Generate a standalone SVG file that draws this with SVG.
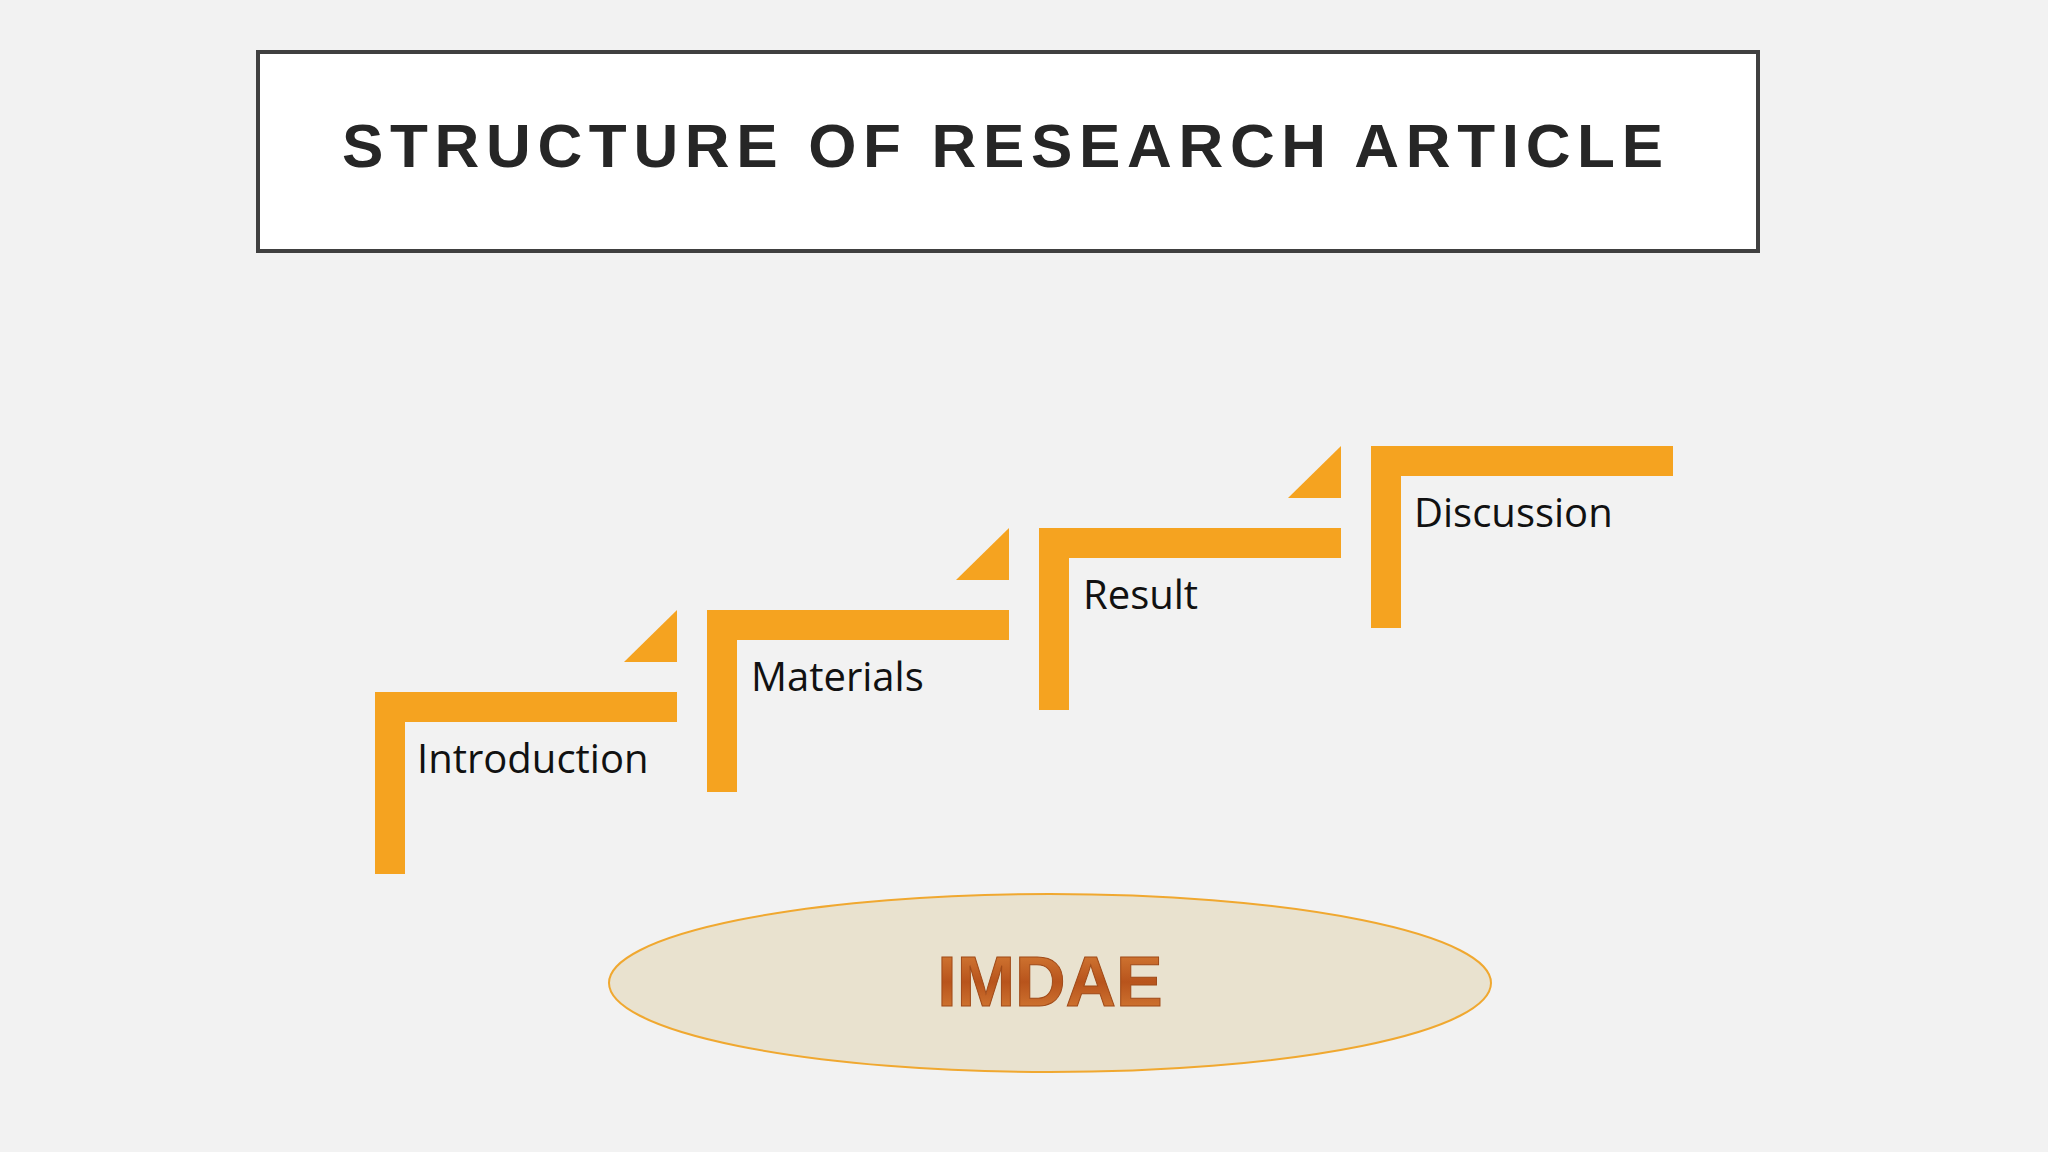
<svg xmlns="http://www.w3.org/2000/svg" width="2048" height="1152" viewBox="0 0 2048 1152">
<defs>
<linearGradient id="g" x1="0" y1="0" x2="0" y2="1"><stop offset="0" stop-color="#d9823a"/><stop offset="0.5" stop-color="#b8541c"/><stop offset="1" stop-color="#d9823a"/></linearGradient>
</defs>
<style>
.bar{fill:#f5a320}
.lbl{font-family:"Open Sans",sans-serif;font-size:40px;fill:#111}
</style>
<rect width="2048" height="1152" fill="#f2f2f2"/>
<g id="title">
<rect x="258" y="52" width="1500" height="199" fill="#fff" stroke="#404040" stroke-width="4"/>
<text x="1006" y="167" text-anchor="middle" font-family="Liberation Sans,sans-serif" font-weight="bold" font-size="62" letter-spacing="7" fill="#262626" textLength="1328">STRUCTURE OF RESEARCH ARTICLE</text>
</g>
<g id="introduction">
<rect class="bar" x="375" y="692" width="30" height="182"/><rect class="bar" x="375" y="692" width="302" height="30"/>
<polygon class="bar" points="677,610 677,662 624,662"/>
<text class="lbl" x="417" y="773">Introduction</text>
</g>
<g id="materials">
<rect class="bar" x="707" y="610" width="30" height="182"/><rect class="bar" x="707" y="610" width="302" height="30"/>
<polygon class="bar" points="1009,528 1009,580 956,580"/>
<text class="lbl" x="751" y="691">Materials</text>
</g>
<g id="result">
<rect class="bar" x="1039" y="528" width="30" height="182"/><rect class="bar" x="1039" y="528" width="302" height="30"/>
<polygon class="bar" points="1341,446 1341,498 1288,498"/>
<text class="lbl" x="1083" y="609">Result</text>
</g>
<g id="discussion">
<rect class="bar" x="1371" y="446" width="30" height="182"/><rect class="bar" x="1371" y="446" width="302" height="30"/>
<text class="lbl" x="1414" y="527">Discussion</text>
</g>
<g id="imdae">
<ellipse cx="1050" cy="983" rx="441" ry="89" fill="#e9e2cf" stroke="#f0a830" stroke-width="2"/>
<text x="1050" y="1006" text-anchor="middle" font-family="Liberation Sans,sans-serif" font-weight="bold" font-size="70" fill="url(#g)" stroke="#a04a18" stroke-width="1">IMDAE</text>
</g>
<g id="connectors"/>
</svg>
